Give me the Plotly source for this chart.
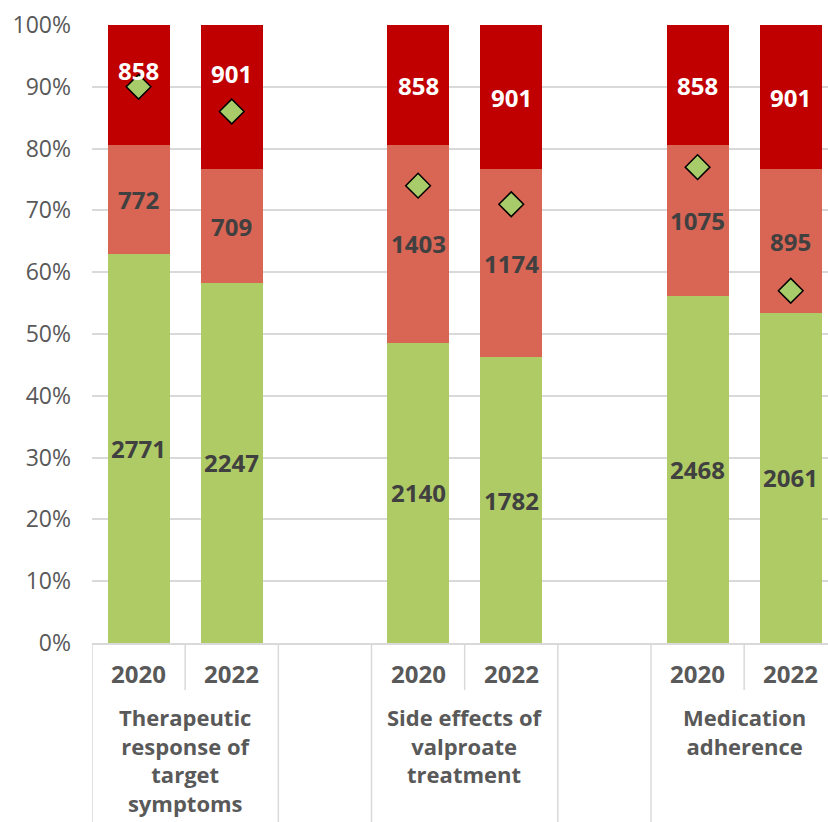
import plotly.graph_objects as go

# Survey groups and years
groups = ["Therapeutic<br>response of<br>target<br>symptoms",
          "Side effects of<br>valproate<br>treatment",
          "Medication<br>adherence"]
years = ["2020", "2022"]

# Counts per response segment (one entry per group/year bar)
low_counts = [2771, 2247, 2140, 1782, 2468, 2061]
mid_counts = [772, 709, 1403, 1174, 1075, 895]
high_counts = [858, 901, 858, 901, 858, 901]

# Marker values (share, %)
marker_pct = [90, 86, 74, 71, 77, 57]

# Bar slots along the x axis (an empty slot separates groups)
slots = [0, 1, 3, 4, 6, 7]

GREEN = "#AFCB66"
SALMON = "#D96555"
RED = "#C00000"
TEXT = "#595959"
GRID = "#D9D9D9"
FONT = "Open Sans"

totals = [a + b + c for a, b, c in zip(low_counts, mid_counts, high_counts)]
low_sh = [a / t for a, t in zip(low_counts, totals)]
mid_sh = [b / t for b, t in zip(mid_counts, totals)]
high_sh = [c / t for c, t in zip(high_counts, totals)]

fig = go.Figure()
for share, col in [(low_sh, GREEN), (mid_sh, SALMON), (high_sh, RED)]:
    fig.add_trace(go.Bar(x=slots, y=share, marker=dict(color=col, line=dict(width=0)),
                         width=0.667, hoverinfo="skip", showlegend=False))

fig.add_trace(go.Scatter(x=slots, y=[p / 100 for p in marker_pct], mode="markers",
                         marker=dict(symbol="diamond", size=19, color="#A9CC6A",
                                     line=dict(color="black", width=1.5)),
                         showlegend=False, hoverinfo="skip"))

annotations = []
label_font = dict(family=FONT, size=24, weight=700)
for i, s in enumerate(slots):
    b0 = 0
    for k, (share, counts) in enumerate([(low_sh, low_counts), (mid_sh, mid_counts),
                                         (high_sh, high_counts)]):
        mid = b0 + share[i] / 2
        shift = 0
        if k == 2 and i < 2:
            shift = 15 if i == 0 else 24
        annotations.append(dict(x=s, y=mid, xref="x", yref="y", text=str(counts[i]),
                                showarrow=False, yshift=shift,
                                font=dict(label_font, color="white" if k == 2 else "#404040")))
        b0 += share[i]

# Category axis labels: years and group names
for i, s in enumerate(slots):
    annotations.append(dict(x=s, y=-0.05, xref="x", yref="paper", text=years[i % 2],
                            showarrow=False, yanchor="middle",
                            font=dict(family=FONT, size=24, weight=700, color=TEXT)))
for g, name in enumerate(groups):
    annotations.append(dict(x=slots[2 * g] + 0.5, y=-0.092, xref="x", yref="paper",
                            text=name, showarrow=False, yanchor="top", align="center",
                            font=dict(family=FONT, size=22, weight=700, color=TEXT)))

# Separators below the axis
shapes = []
for xb in [-0.5, 0.5, 1.5, 2.5, 3.5, 4.5, 5.5, 6.5, 7.5]:
    short = xb in (0.5, 3.5, 6.5)
    shapes.append(dict(type="line", xref="x", yref="paper", x0=xb, x1=xb, y0=0,
                       y1=-0.076 if short else -0.3, line=dict(color=GRID, width=1.5)))

fig.update_layout(
    barmode="stack",
    width=828, height=822,
    margin=dict(l=92, r=0, t=25, b=179),
    plot_bgcolor="white", paper_bgcolor="white",
    annotations=annotations, shapes=shapes,
    xaxis=dict(range=[-0.5, 7.4], showticklabels=False, showgrid=False, zeroline=False,
               showline=True, linecolor=GRID, linewidth=1.5),
    yaxis=dict(range=[0, 1], dtick=0.1, tickformat=".0%", showgrid=True, gridcolor=GRID,
               gridwidth=1.5, zeroline=False, ticks="", ticklabelstandoff=20,
               tickfont=dict(family=FONT, size=23, color=TEXT)),
)

fig.write_html("out.html")
